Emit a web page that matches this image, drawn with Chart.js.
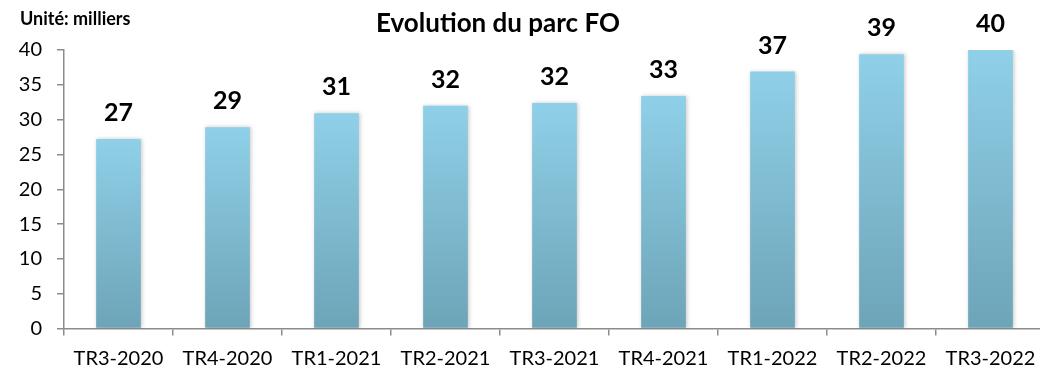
<!DOCTYPE html>
<html>
<head>
<meta charset="utf-8">
<script src="https://cdn.jsdelivr.net/npm/chart.js@4"></script>
<style>
  html, body { margin: 0; padding: 0; overflow: hidden; background: #fff; }
  canvas { display: block; }
</style>
</head>
<body>
<canvas id="chart" width="1050" height="371"></canvas>
<script>
// Parc fibre optique par trimestre (milliers)
const categories = ['TR3-2020', 'TR4-2020', 'TR1-2021', 'TR2-2021', 'TR3-2021', 'TR4-2021', 'TR1-2022', 'TR2-2022', 'TR3-2022'];
const parcFO = [27.2, 28.9, 30.9, 32.0, 32.4, 33.4, 36.9, 39.4, 40.0];
const yMin = 0;
const yMax = 40;
const yStep = 5;
const chartTitle = 'Evolution du parc FO';
const unitLabel = 'Unité: milliers';

const AXIS_GREY = '#8c8c8c';
const FONT = 'Lato';

// Vertical gradient spanning each bar from its top to the baseline
function barFill(context) {
  const chart = context.chart;
  const { chartArea, scales } = chart;
  if (!chartArea || !scales.y || context.dataIndex === undefined) return '#80bcd3';
  const top = scales.y.getPixelForValue(context.raw);
  const bottom = scales.y.getPixelForValue(0);
  const g = chart.ctx.createLinearGradient(0, top, 0, bottom);
  g.addColorStop(0, '#8fd0e8');
  g.addColorStop(1, '#6da4b8');
  return g;
}

const textPlugin = {
  id: 'parcTexts',
  beforeDatasetDraw(chart) {
    const c = chart.ctx;
    c.save();
    c.shadowColor = 'rgba(0,0,0,0.22)';
    c.shadowBlur = 4;
    c.shadowOffsetX = 1;
    c.shadowOffsetY = 0;
  },
  afterDatasetDraw(chart) {
    chart.ctx.restore();
  },
  afterDraw(chart) {
    const c = chart.ctx;
    c.save();
    c.fillStyle = '#000';
    c.textBaseline = 'alphabetic';
    c.textAlign = 'center';

    // value above each bar
    c.font = 'bold 25px ' + FONT;
    const meta = chart.getDatasetMeta(0);
    meta.data.forEach((bar, i) => {
      c.fillText(String(Math.round(parcFO[i])), bar.x, bar.y - 18);
    });

    // title
    c.font = 'bold 26px ' + FONT;
    c.fillText(chartTitle, 498, 32);

    // unit
    c.font = 'bold 18px ' + FONT;
    c.textAlign = 'left';
    c.fillText(unitLabel, 20, 25);
    c.restore();
  }
};

Chart.defaults.font.family = FONT;

new Chart(document.getElementById('chart'), {
  type: 'bar',
  data: {
    labels: categories,
    datasets: [{
      data: parcFO,
      backgroundColor: barFill,
      borderWidth: 0,
      categoryPercentage: 1,
      barPercentage: 0.41
    }]
  },
  options: {
    responsive: false,
    animation: false,
    events: [],
    layout: { padding: { top: 50, right: 5, left: 0, bottom: 0 } },
    plugins: {
      legend: { display: false },
      tooltip: { enabled: false },
      title: { display: false }
    },
    scales: {
      x: {
        grid: {
          display: true,
          drawOnChartArea: false,
          drawTicks: true,
          tickLength: 7,
          color: AXIS_GREY,
          lineWidth: 1.5,
          offset: true
        },
        border: { display: true, color: AXIS_GREY, width: 1.5 },
        ticks: {
          font: { size: 20 },
          color: '#000',
          padding: 11,
          maxRotation: 0,
          autoSkip: false
        },
        afterFit(scale) { scale.height = 42.5; }
      },
      y: {
        min: yMin,
        max: yMax,
        ticks: {
          stepSize: yStep,
          font: { size: 20 },
          color: '#000',
          padding: 15
        },
        grid: {
          drawOnChartArea: false,
          drawTicks: true,
          tickLength: 7,
          color: AXIS_GREY,
          lineWidth: 1.5
        },
        border: { display: true, color: AXIS_GREY, width: 1.5 },
        afterFit(scale) { scale.width = 64; }
      }
    }
  },
  plugins: [textPlugin]
});
</script>
</body>
</html>
